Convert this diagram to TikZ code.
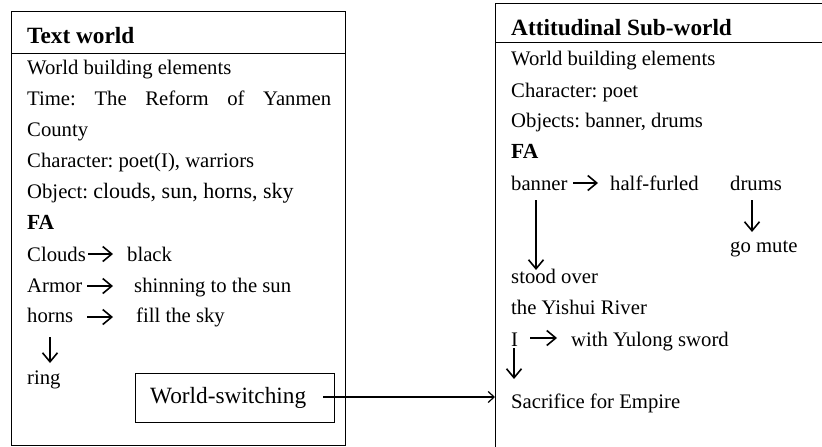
\documentclass[tikz,border=0pt]{standalone}
\usepackage{fontspec}
\setmainfont{Liberation Serif}
\usetikzlibrary{arrows.meta}
\begin{document}
\frenchspacing
\begin{tikzpicture}[x=1pt,y=-1pt,
  txt/.style={anchor=base west,inner sep=0pt,font=\fontsize{20.7}{24}\selectfont},
  ttl/.style={anchor=base west,inner sep=0pt,font=\fontsize{23.3}{26}\selectfont\bfseries},
  fa/.style={anchor=base west,inner sep=0pt,font=\fontsize{21.5}{26}\selectfont\bfseries},
  frame/.style={line width=1pt},
  arr/.style={line width=1.6pt,-{Straight Barb[length=9pt,width=15pt]}},
  conn/.style={line width=1.2pt,-{Straight Barb[length=6pt,width=11pt]}}]
\useasboundingbox (0,0) rectangle (822,447);
% left box
\draw[frame] (11,11) rectangle (345,445);
\draw[frame] (11,53) -- (345,53);
\node[ttl] (tw) at (27,43) {Text world};
\node[txt] (wbe1) at (27,74) {World building elements};
\node[txt] (time) at (27,105) {\makebox[304pt][s]{Time: The Reform of Yanmen}};
\node[txt] (county) at (27,136) {County};
\node[txt] (char1) at (27,167) {Character: poet(I), warriors};
\node[txt] (obj1) at (27,198) {Object: {\fontsize{22}{26}\selectfont clouds, sun, horns, sky}};
\node[fa] (fa1) at (27,229) {FA};
\node[txt] (clouds) at (27,261) {Clouds};
\node[txt] (black) at (127,261) {black};
\node[txt] (armor) at (27,292) {Armor};
\node[txt] (shin) at (134,292) {shinning to the sun};
\node[txt] (horns) at (27,322) {horns};
\node[txt] (fill) at (136,322) {fill the sky};
\node[txt] (ring) at (27,384) {ring};
\node[draw,line width=1pt,minimum width=199pt,minimum height=49pt,inner sep=0pt] (wsbox) at (234.5,397.5) {};
\node[anchor=base west,inner sep=0pt,font=\fontsize{23.3}{26}\selectfont] (ws) at (150,403) {World-switching};
% left arrows
\draw[arr] ([shift={(2,-7)}]clouds.base east) -- ([shift={(-14,-7)}]black.base west);
\draw[arr] ([shift={(60,-6)}]armor.base west) -- ([shift={(-21,-6)}]shin.base west);
\draw[arr] ([shift={(60,-5)}]horns.base west) -- ([shift={(-23,-5)}]fill.base west);
\draw[arr] ([shift={(23,15)}]horns.base west) -- ([shift={(23,-21)}]ring.base west);
% right box
\draw[frame] (822,3) -- (495,3) -- (495,447);
\draw[frame] (495,42) -- (822,42);
\coordinate (rbL) at (495,397);
\node[ttl] (aw) at (511,35) {Attitudinal Sub-world};
\node[txt] (wbe2) at (511,65) {World building elements};
\node[txt] (char2) at (511,97) {Character: poet};
\node[txt] (objs) at (511,127) {Objects: banner, drums};
\node[fa] (fa2) at (511,158) {FA};
\node[txt] (banner) at (511,190) {banner};
\node[txt] (half) at (610,190) {half-furled};
\node[txt] (drums) at (730,190) {drums};
\node[txt] (gomute) at (730,252) {go mute};
\node[txt] (stood) at (511,283) {stood over};
\node[txt] (yishui) at (511,314) {the Yishui River};
\node[txt] (I) at (511,346) {I};
\node[txt] (yulong) at (571,346) {with Yulong sword};
\node[txt] (sacr) at (511,408) {Sacrifice for Empire};
% right arrows
\draw[arr] ([shift={(62,-7)}]banner.base west) -- ([shift={(-12,-7)}]half.base west);
\draw[arr] ([shift={(25,10)}]banner.base west) -- ([shift={(25,-13)}]stood.base west);
\draw[arr] ([shift={(22,10)}]drums.base west) -- ([shift={(22,-20)}]gomute.base west);
\draw[arr] ([shift={(19,-8)}]I.base west) -- ([shift={(-14,-8)}]yulong.base west);
\draw[arr] ([shift={(3,2)}]I.base west) -- ([shift={(3,-29)}]sacr.base west);
% world switching
\draw[conn] ([shift={(17,-6)}]ws.base east) -- (rbL);
\end{tikzpicture}
\end{document}
